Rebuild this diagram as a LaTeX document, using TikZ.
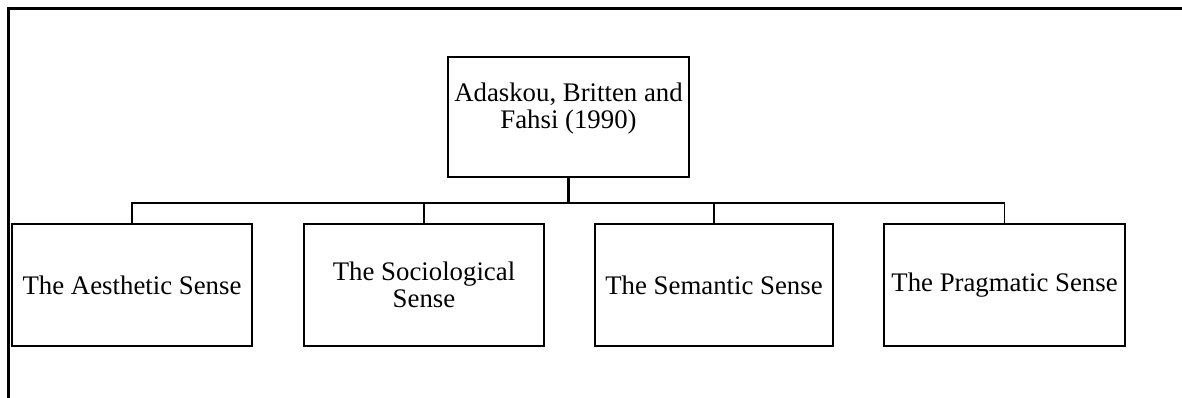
\documentclass[tikz,border=0pt]{standalone}
\usepackage{fontspec}
\setmainfont{Liberation Serif}
\begin{document}
\begin{tikzpicture}[x=1pt,y=-1pt,
  box/.style={draw, line width=1.6pt, rectangle, align=center, inner sep=2pt,
    font=\fontsize{26.8}{27}\selectfont},
  conn/.style={line width=1.8pt}]
\useasboundingbox (0,0) rectangle (1182,398);
\draw[line width=2.4pt] (1182,8.5) -- (8.5,8.5) -- (8.5,398);
\node[box, minimum width=241pt, minimum height=120pt] (top) at (568.5,117) {Adaskou, Britten and\\Fahsi (1990)\\[-4pt]};
\node[box, minimum width=240pt, minimum height=122pt] (b1) at (132,285) {The Aesthetic Sense};
\node[box, minimum width=240pt, minimum height=122pt] (b2) at (424,285) {The Sociological\\Sense};
\node[box, minimum width=238pt, minimum height=122pt] (b3) at (714,285) {The Semantic Sense};
\node[box, minimum width=241pt, minimum height=122pt] (b4) at (1004.5,285) {The Pragmatic Sense};
\coordinate (bar) at (0,203);
\draw[line width=2.4pt] (top.south) -- (top.south |- bar);
\draw[conn] (b1.north) -- (b1.north |- bar) -- (b4.north |- bar) -- (b4.north);
\draw[conn] (b2.north) -- (b2.north |- bar);
\draw[conn] (b3.north) -- (b3.north |- bar);
\end{tikzpicture}
\end{document}
